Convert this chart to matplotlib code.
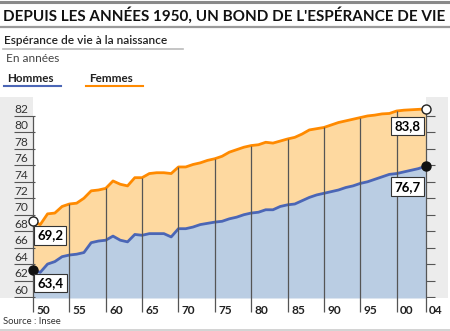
"""Espérance de vie à la naissance, France 1950-2004 (Insee)."""

import numpy as np
import matplotlib

matplotlib.use("Agg")
import matplotlib.pyplot as plt
from matplotlib.lines import Line2D

years = np.arange(1950, 2005)

femmes = [
    69.2, 68.8, 70.1, 70.2, 71.0, 71.3, 71.4, 72.0, 72.9, 73.0,
    73.2, 74.1, 73.7, 73.5, 74.5, 74.5, 75.0, 75.1, 75.1, 75.0,
    75.8, 75.8, 76.1, 76.3, 76.6, 76.8, 77.1, 77.6, 77.9, 78.2,
    78.4, 78.5, 78.8, 78.7, 78.95, 79.2, 79.4, 79.8, 80.3, 80.45,
    80.6, 80.9, 81.2, 81.4, 81.6, 81.8, 82.0, 82.1, 82.25, 82.3,
    82.6, 82.7, 82.75, 82.8, 82.85,
]
hommes = [
    63.3, 63.0, 64.0, 64.3, 64.9, 65.1, 65.2, 65.4, 66.6, 66.8,
    66.9, 67.4, 66.9, 66.7, 67.6, 67.5, 67.7, 67.7, 67.7, 67.3,
    68.3, 68.3, 68.5, 68.8, 68.95, 69.1, 69.2, 69.5, 69.7, 70.0,
    70.2, 70.3, 70.6, 70.6, 71.0, 71.2, 71.3, 71.7, 72.1, 72.4,
    72.6, 72.8, 73.0, 73.3, 73.5, 73.8, 74.0, 74.3, 74.6, 74.9,
    75.0, 75.2, 75.4, 75.6, 75.9,
]

x_ticks = [1950, 1955, 1960, 1965, 1970, 1975, 1980, 1985, 1990, 1995, 2000, 2004]
x_labels = ["50", "55", "60", "65", "70", "75", "80", "85", "90", "95", "00", "04"]
y_ticks = list(range(60, 84, 2))

labels_debut = ["69,2", "63,4"]
labels_fin = ["83,8", "76,7"]

C_F_LINE = "#ff8a00"
C_F_FILL = "#fed9a0"
C_H_LINE = "#4b66b6"
C_H_FILL = "#bacde3"
C_PANEL = "#ececec"
C_DARK = "#555555"

plt.rcParams["font.family"] = ["Lato", "DejaVu Sans"]

W, H = 450, 331
fig = plt.figure(figsize=(W / 100, H / 100), dpi=100)


def fx(px):
    return px / W


def fy(py):
    return 1 - py / H


# header
fig.add_artist(Line2D([0, 1], [fy(1.5), fy(1.5)], color="#8a8a8a", lw=2.2))
fig.text(fx(3), fy(15), "DEPUIS LES ANNÉES 1950, UN BOND DE L'ESPÉRANCE DE VIE",
         fontsize=10.95, fontweight="bold", va="center", ha="left", color="#111111")
fig.add_artist(Line2D([0, 1], [fy(27), fy(27)], color="#9a9a9a", lw=1.6))
fig.text(fx(4), fy(41), "Espérance de vie à la naissance",
         fontsize=8.6, fontweight="semibold", va="center", color="#222222")
fig.add_artist(Line2D([fx(3), fx(183)], [fy(49), fy(49)], color="#bbbbbb", lw=1.2))
fig.text(fx(6), fy(58), "En années", fontsize=8.6, va="center", color="#444444")
fig.text(fx(7), fy(78), "Hommes", fontsize=8.4, fontweight="bold", va="center", color="#222222")
fig.add_artist(Line2D([fx(4), fx(61)], [fy(85.5), fy(85.5)], color=C_H_LINE, lw=1.5))
fig.text(fx(89), fy(78), "Femmes", fontsize=8.4, fontweight="bold", va="center", color="#222222")
fig.add_artist(Line2D([fx(86), fx(143)], [fy(85.5), fy(85.5)], color=C_F_LINE, lw=1.5))

# plot area: px 0..448 horizontally, 97..298 vertically
px_year = (425.7 - 33) / (2004 - 1950)
px_unit = 8.23
x0 = 1950 - 33 / px_year
x1 = 2004 + (448 - 425.7) / px_year
y0 = 60 - 1 / px_unit
y1 = 60 + (297 - 97) / px_unit

ax = fig.add_axes([0, fy(298), fx(448), (298 - 97) / H])
ax.set_xlim(x0, x1)
ax.set_ylim(y0, y1)
ax.axis("off")

ax.axvspan(x0, 1950, color=C_PANEL, lw=0)
ax.axvspan(2004, x1, color=C_PANEL, lw=0)

ax.fill_between(years, y0, hommes, color=C_H_FILL, lw=0)
ax.fill_between(years, hommes, femmes, color=C_F_FILL, lw=0)
ax.plot(years, femmes, color=C_F_LINE, lw=2, solid_joinstyle="round")
ax.plot(years, hommes, color=C_H_LINE, lw=2, solid_joinstyle="round")

# vertical grid lines under the curves, extended below the axis
y_below = 60 - 15 / px_unit
for yr in x_ticks[1:-1]:
    top = np.interp(yr, years, femmes)
    ax.vlines(yr, y_below, top, color=C_DARK, lw=0.9, clip_on=False, zorder=3)
ax.vlines(1950, y_below, 82, color=C_DARK, lw=0.9, clip_on=False, zorder=3)
ax.vlines(2004, y_below, femmes[-1], color=C_DARK, lw=0.9, clip_on=False, zorder=3)

for yr, lab in zip(x_ticks, x_labels):
    ax.text(yr + 3.5 / px_year, 60 - 13 / px_unit, lab, fontsize=8.6, fontweight="bold",
            ha="left", va="center", color="#222222", clip_on=False)

# y ticks: underline style on the left, short marks on the right
for v in y_ticks:
    ax.hlines(v, x0 + 14 / px_year, 1950 + 2 / px_year, color=C_DARK, lw=0.8, zorder=3)
    ax.hlines(v, 2004, 2004 + 9 / px_year, color=C_DARK, lw=0.8, zorder=3)
    ax.text(x0 + 28.5 / px_year, v + 0.15, str(v), fontsize=8.6, ha="right", va="bottom",
            color="#333333")

# end points
ax.plot(years[0], femmes[0], "o", ms=6.5, mfc="white", mec="#222222", mew=1, zorder=5)
ax.plot(years[-1], femmes[-1], "o", ms=6.5, mfc="white", mec="#222222", mew=1, zorder=5)
ax.plot(years[0], hommes[0], "o", ms=6.5, mfc="#111111", mec="#111111", zorder=5)
ax.plot(years[-1], hommes[-1], "o", ms=6.5, mfc="#111111", mec="#111111", zorder=5)

box = dict(boxstyle="square,pad=0.25", fc="white", ec="#333333", lw=0.8)
for lab, val, off in zip(labels_debut, [femmes[0], hommes[0]], [(17, -14), (17.5, -13)]):
    ax.annotate(lab, (years[0], val), xytext=off, textcoords="offset pixels",
                ha="center", va="center", fontsize=9.5, fontweight="bold", bbox=box, zorder=6)
for lab, val, off in zip(labels_fin, [femmes[-1], hommes[-1]], [(-18, -17), (-18, -20.5)]):
    ax.annotate(lab, (years[-1], val), xytext=off, textcoords="offset pixels",
                ha="center", va="center", fontsize=9.5, fontweight="bold", bbox=box, zorder=6)

# footer
fig.text(fx(3), fy(322), "Source : Insee", fontsize=6.8, va="center", color="#333333")
fig.add_artist(Line2D([0, 1], [fy(329.5), fy(329.5)], color="#cccccc", lw=1.2))

fig.savefig("out.png", dpi=100)
